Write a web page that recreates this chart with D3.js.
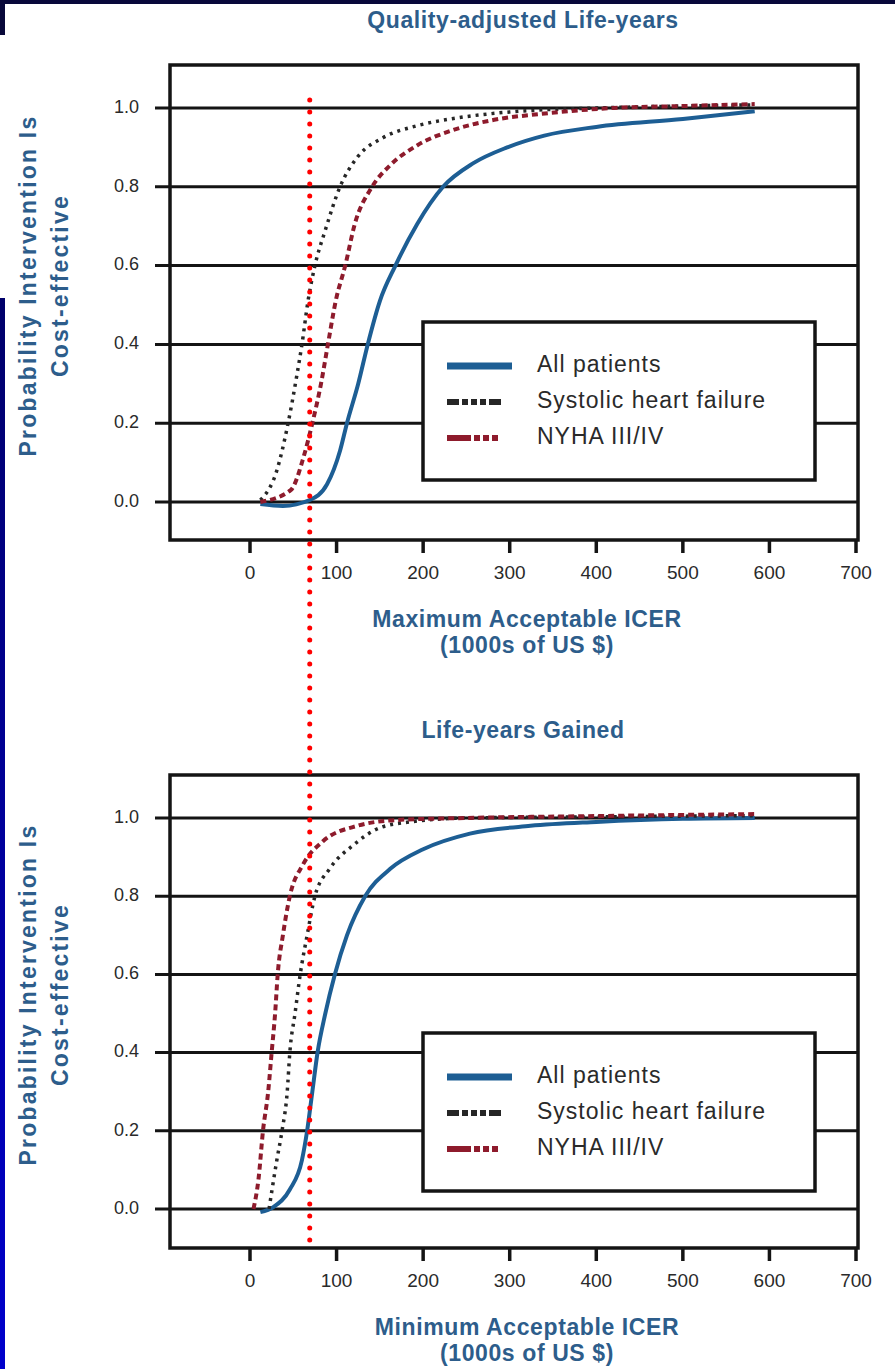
<!DOCTYPE html>
<html>
<head>
<meta charset="utf-8">
<script src="https://cdn.jsdelivr.net/npm/d3@7"></script>
<style>
  html, body { margin: 0; padding: 0; background: #fff; }
  svg { display: block; }
</style>
</head>
<body>
<svg id="chart" width="895" height="1369"></svg>
<script>
// Data (x in 1000s of US $, y = probability)
var xTicks = [0, 100, 200, 300, 400, 500, 600, 700];
var yTicks = [0, 0.2, 0.4, 0.6, 0.8, 1.0];
var seriesNames = ['All patients', 'Systolic heart failure', 'NYHA III/IV'];

// Quality-adjusted life-years panel
var qalyAll = [[12, -0.005], [38, -0.01], [69, 0.005], [89, 0.045], [104, 0.13], [112, 0.2],
  [125, 0.3], [136, 0.4], [150, 0.51], [168, 0.6], [193, 0.705], [223, 0.8], [258, 0.86],
  [297, 0.9], [340, 0.93], [400, 0.952], [500, 0.972], [583, 0.992]];
var qalySystolic = [[12, 0.005], [31, 0.08], [44, 0.2], [54, 0.32], [60, 0.4], [67, 0.51],
  [75, 0.6], [87, 0.69], [104, 0.8], [124, 0.875], [154, 0.925], [193, 0.955], [240, 0.975],
  [300, 0.99], [400, 1.0], [500, 1.005], [583, 1.008]];
var qalyNyha = [[12, 0.0], [47, 0.03], [62, 0.115], [72, 0.2], [82, 0.3], [90, 0.4], [99, 0.51],
  [110, 0.6], [121, 0.705], [141, 0.8], [162, 0.855], [193, 0.905], [236, 0.945], [282, 0.97],
  [336, 0.985], [420, 1.0], [500, 1.005], [583, 1.01]];

// Life-years gained panel
var lygAll = [[12, -0.008], [27, 0.005], [46, 0.05], [60, 0.125], [66, 0.2], [72, 0.3],
  [78, 0.4], [87, 0.5], [98, 0.6], [112, 0.7], [133, 0.8], [162, 0.87], [200, 0.92],
  [254, 0.96], [324, 0.98], [400, 0.99], [500, 0.998], [583, 1.0]];
var lygSystolic = [[22, 0.0], [31, 0.125], [37, 0.2], [43, 0.3], [46, 0.4], [52, 0.5],
  [58, 0.6], [66, 0.7], [75, 0.8], [92, 0.87], [119, 0.93], [150, 0.975], [185, 0.99],
  [250, 1.0], [400, 1.003], [583, 1.006]];
var lygNyha = [[4, 0.0], [10, 0.08], [15, 0.2], [21, 0.3], [25, 0.4], [29, 0.5], [32, 0.6],
  [38, 0.7], [46, 0.8], [61, 0.88], [84, 0.94], [124, 0.98], [170, 0.995], [250, 1.0],
  [400, 1.005], [583, 1.01]];

var thresholdIcer = 69;

var colors = ['#1d5e94', '#262626', '#8e1b2c'];
var titleColor = '#2d5d8b';
var FONT = '"Liberation Sans", Arial, sans-serif';

var svg = d3.select('#chart');

// page decoration: dark frame strips at the edges
var grad = svg.append('defs').append('linearGradient')
    .attr('id', 'sideGrad').attr('x1', 0).attr('y1', 0).attr('x2', 0).attr('y2', 1);
grad.append('stop').attr('offset', '0%').attr('stop-color', '#00006a');
grad.append('stop').attr('offset', '100%').attr('stop-color', '#0000cc');
svg.append('rect').attr('x', 0).attr('y', 0).attr('width', 895).attr('height', 4).attr('fill', '#08083a');
svg.append('rect').attr('x', 0).attr('y', 0).attr('width', 5).attr('height', 35).attr('fill', '#08083a');
svg.append('rect').attr('x', 0).attr('y', 298).attr('width', 5).attr('height', 1071).attr('fill', 'url(#sideGrad)');

var x = d3.scaleLinear().domain([0, 700]).range([250, 856]);

function boldText(g, txt) {
  return g.append('text')
      .attr('text-anchor', 'middle')
      .attr('dominant-baseline', 'middle')
      .style('font', 'bold 23px ' + FONT)
      .style('letter-spacing', '0.6px')
      .style('fill', titleColor)
      .text(txt);
}

function drawPanel(cfg) {
  var y = d3.scaleLinear().domain([0, 1]).range([cfg.zeroY, cfg.oneY]);
  var g = svg.append('g');
  var left = 170, right = 858;

  boldText(g, cfg.title).attr('x', 523).attr('y', cfg.top - 43);

  // gridlines (they stick out to the left as ticks)
  g.selectAll('line.grid').data(yTicks).enter().append('line')
      .attr('class', 'grid')
      .attr('x1', left - 15).attr('x2', right)
      .attr('y1', function(d) { return y(d); })
      .attr('y2', function(d) { return y(d); })
      .style('stroke', '#141414').style('stroke-width', 3);

  g.selectAll('text.ylab').data(yTicks).enter().append('text')
      .attr('class', 'ylab')
      .attr('x', 139)
      .attr('y', function(d) { return y(d); })
      .attr('text-anchor', 'end')
      .attr('dominant-baseline', 'middle')
      .style('font', '18px ' + FONT)
      .style('fill', '#2a2a2a')
      .text(function(d) { return d3.format('.1f')(d); });

  g.append('rect')
      .attr('x', left).attr('y', cfg.top)
      .attr('width', right - left).attr('height', cfg.bottom - cfg.top)
      .style('fill', 'none').style('stroke', '#141414').style('stroke-width', 3.5);

  g.selectAll('line.xtick').data(xTicks).enter().append('line')
      .attr('class', 'xtick')
      .attr('x1', function(d) { return x(d); })
      .attr('x2', function(d) { return x(d); })
      .attr('y1', cfg.bottom).attr('y2', cfg.bottom + 13)
      .style('stroke', '#141414').style('stroke-width', 3.5);

  g.selectAll('text.xlab').data(xTicks).enter().append('text')
      .attr('class', 'xlab')
      .attr('x', function(d) { return x(d); })
      .attr('y', cfg.bottom + 34)
      .attr('text-anchor', 'middle')
      .attr('dominant-baseline', 'middle')
      .style('font', '19px ' + FONT)
      .style('fill', '#2a2a2a')
      .text(function(d) { return d; });

  boldText(g, cfg.xTitle).attr('x', 527).attr('y', cfg.bottom + 81);
  boldText(g, '(1000s of US $)').attr('x', 527).attr('y', cfg.bottom + 107);

  // rotated y title, two lines
  var cy = (cfg.top + cfg.bottom) / 2 - 17;
  [['Probability Intervention Is', 30], ['Cost-effective', 62]].forEach(function(t) {
    boldText(g, t[0])
        .attr('transform', 'translate(' + t[1] + ',' + cy + ') rotate(-90)')
        .style('letter-spacing', '2.2px');
  });

  // legend
  var lg = g.append('g');
  lg.append('rect')
      .attr('x', 423).attr('y', cfg.legendTop)
      .attr('width', 392).attr('height', 158)
      .style('fill', '#fff').style('stroke', '#141414').style('stroke-width', 3.5);
  var legendDash = [null, '12 3 6 3 6 3 6 3 12', '24 3 6 3 6 3 6'];
  seriesNames.forEach(function(name, i) {
    var ry = cfg.legendTop + 44 + i * 36;
    lg.append('line')
        .attr('x1', 447).attr('x2', 512).attr('y1', ry).attr('y2', ry)
        .style('stroke', colors[i]).style('stroke-width', i === 0 ? 7 : 6)
        .style('stroke-dasharray', legendDash[i]);
    lg.append('text')
        .attr('x', 537).attr('y', ry)
        .attr('dominant-baseline', 'middle')
        .style('font', '23px ' + FONT)
        .style('letter-spacing', '1px')
        .style('fill', '#2a2a2a')
        .text(name);
  });

  var line = d3.line()
      .x(function(d) { return x(d[0]); })
      .y(function(d) { return y(d[1]); })
      .curve(d3.curveMonotoneX);

  var styles = [
    {w: 4, dash: null},
    {w: 3.5, dash: '3 5'},
    {w: 4, dash: '6 4'}
  ];
  cfg.series.forEach(function(s, i) {
    g.append('path')
        .datum(s)
        .attr('d', line)
        .style('fill', 'none')
        .style('stroke', colors[i])
        .style('stroke-width', styles[i].w)
        .style('stroke-dasharray', styles[i].dash);
  });
  return y;
}

var y1 = drawPanel({
  title: 'Quality-adjusted Life-years',
  xTitle: 'Maximum Acceptable ICER',
  top: 65, bottom: 540, zeroY: 502, oneY: 108, legendTop: 322,
  series: [qalyAll, qalySystolic, qalyNyha]
});
var y2 = drawPanel({
  title: 'Life-years Gained',
  xTitle: 'Minimum Acceptable ICER',
  top: 775, bottom: 1248, zeroY: 1209, oneY: 818, legendTop: 1033,
  series: [lygAll, lygSystolic, lygNyha]
});

// red dotted threshold line running through both panels
svg.append('line')
    .attr('x1', x(thresholdIcer)).attr('x2', x(thresholdIcer))
    .attr('y1', y1(1.02)).attr('y2', 1246)
    .style('stroke', '#ff0000')
    .style('stroke-width', 5)
    .style('stroke-linecap', 'round')
    .style('stroke-dasharray', '0 12');
</script>
</body>
</html>
